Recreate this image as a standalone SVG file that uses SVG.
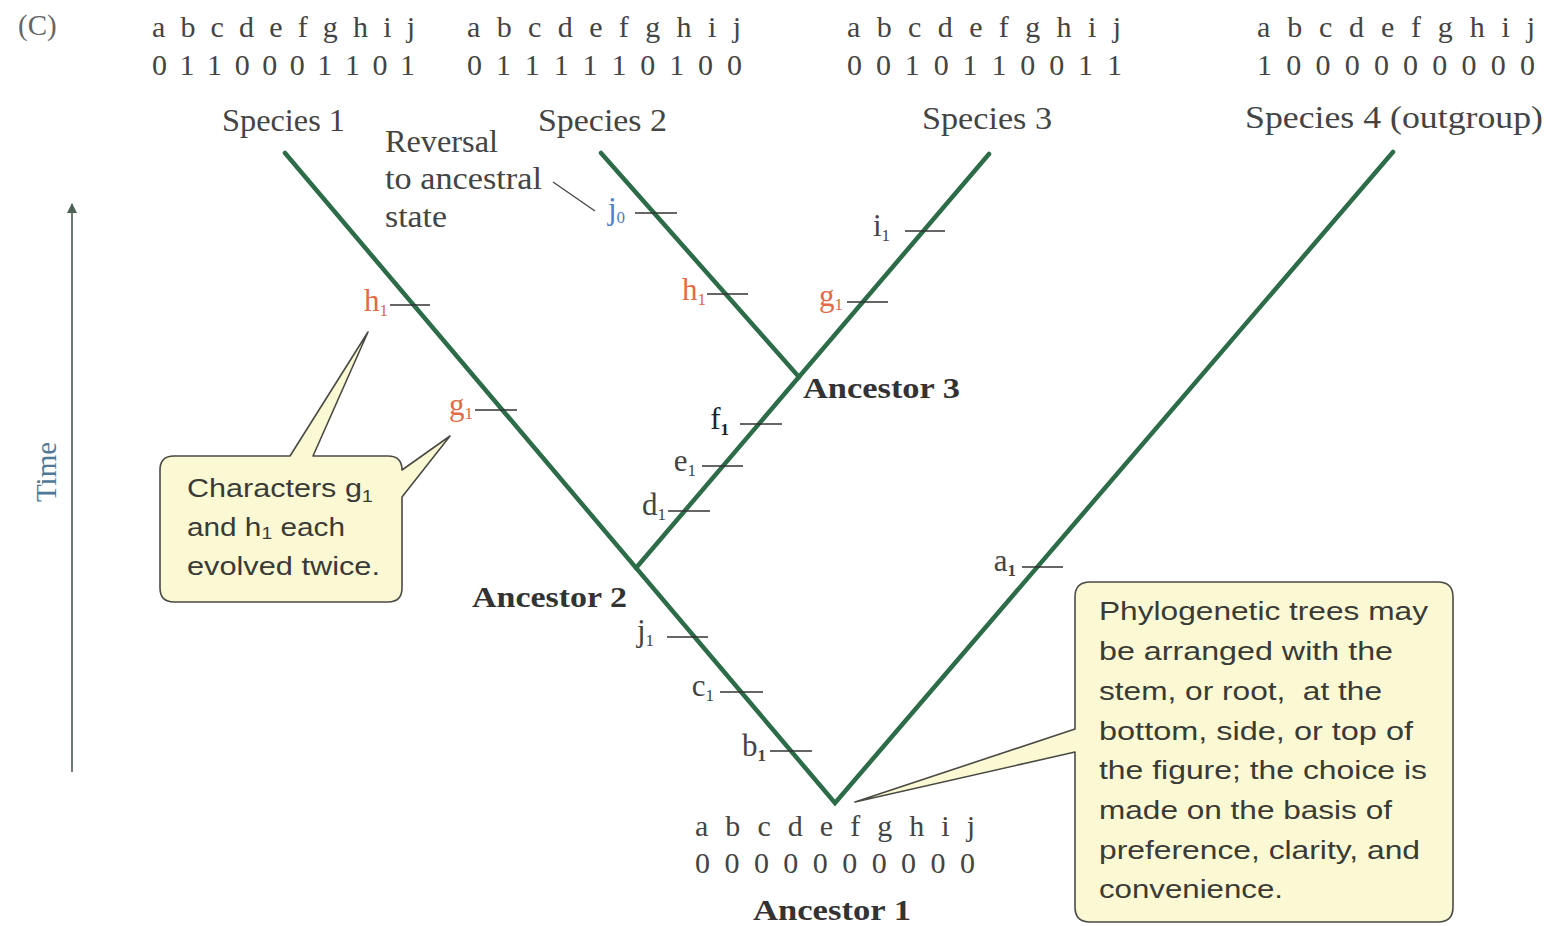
<svg xmlns="http://www.w3.org/2000/svg" width="1550" height="926" viewBox="0 0 1550 926">
<defs>
<style>
.serif{font-family:"Liberation Serif","Times New Roman",serif;fill:#444;}
.data{font-size:30px;}
.sp{font-size:31px;}
.anc{font-size:30px;font-weight:bold;fill:#333;}
.lab{font-size:31px;}
.sub{font-size:17px;}
.red{fill:#e26a48;}
.blue{fill:#4f7fc6;}
.sans{font-family:"Liberation Sans",Arial,sans-serif;font-size:26px;fill:#3a3a36;}
.branch{fill:none;stroke:#2c6c48;stroke-width:4.5;stroke-linecap:round;stroke-linejoin:miter;}
.tick{stroke:#333;stroke-width:1.6;}
.callout{fill:#fbf9d4;stroke:#4a4a44;stroke-width:1.6;stroke-linejoin:round;}
</style>
<marker id="arr" viewBox="0 0 10 10" refX="9" refY="5" markerWidth="10" markerHeight="10" markerUnits="userSpaceOnUse" orient="auto">
<path d="M0,0 L10,5 L0,10 Z" fill="#4d6156"/>
</marker>
</defs>
<rect width="1550" height="926" fill="#ffffff"/>

<text x="18" y="35" font-family="Liberation Serif, serif" font-size="29" fill="#666">(C)</text>

<g id="time-axis">
<line x1="72" y1="772" x2="72" y2="204" stroke="#6d7a72" stroke-width="2" marker-end="url(#arr)"/>
<text x="56" y="472" transform="rotate(-90 56 472)" text-anchor="middle" font-family="Liberation Serif, serif" font-size="29" fill="#4f7896">Time</text>
</g>

<g id="connectors">
<polyline class="branch" points="285,153 835,803 1393,152"/>
<line class="branch" x1="636" y1="568" x2="989" y2="154"/>
<line class="branch" x1="601" y1="153" x2="799" y2="377"/>
</g>

<g id="species1">
<text class="serif data" x="152" y="37" textLength="263" lengthAdjust="spacing">a b c d e f g h i j</text>
<text class="serif data" x="152" y="75" textLength="263" lengthAdjust="spacing">0 1 1 0 0 0 1 1 0 1</text>
<text class="serif sp" x="222" y="131" textLength="123" lengthAdjust="spacingAndGlyphs">Species 1</text>
</g>
<g id="species2">
<text class="serif data" x="467" y="37" textLength="274" lengthAdjust="spacing">a b c d e f g h i j</text>
<text class="serif data" x="467" y="75" textLength="275" lengthAdjust="spacing">0 1 1 1 1 1 0 1 0 0</text>
<text class="serif sp" x="538" y="131" textLength="129" lengthAdjust="spacingAndGlyphs">Species 2</text>
</g>
<g id="species3">
<text class="serif data" x="847" y="37" textLength="274" lengthAdjust="spacing">a b c d e f g h i j</text>
<text class="serif data" x="847" y="75" textLength="275" lengthAdjust="spacing">0 0 1 0 1 1 0 0 1 1</text>
<text class="serif sp" x="922" y="129" textLength="130" lengthAdjust="spacingAndGlyphs">Species 3</text>
</g>
<g id="species4">
<text class="serif data" x="1257" y="37" textLength="278" lengthAdjust="spacing">a b c d e f g h i j</text>
<text class="serif data" x="1257" y="75" textLength="278" lengthAdjust="spacing">1 0 0 0 0 0 0 0 0 0</text>
<text class="serif sp" x="1245" y="128" textLength="298" lengthAdjust="spacingAndGlyphs">Species 4 (outgroup)</text>
</g>

<g id="ancestor1">
<text class="serif data" x="695" y="836" textLength="280" lengthAdjust="spacing">a b c d e f g h i j</text>
<text class="serif data" x="695" y="873" textLength="280" lengthAdjust="spacing">0 0 0 0 0 0 0 0 0 0</text>
<text class="serif anc" x="753" y="920" textLength="158" lengthAdjust="spacingAndGlyphs">Ancestor 1</text>
</g>
<g id="ancestor2">
<text class="serif anc" x="472" y="607" textLength="155" lengthAdjust="spacingAndGlyphs">Ancestor 2</text>
</g>
<g id="ancestor3">
<text class="serif anc" x="803" y="398" textLength="157" lengthAdjust="spacingAndGlyphs">Ancestor 3</text>
</g>

<g id="reversal-note">
<text class="serif lab" x="385" y="152" textLength="113" lengthAdjust="spacingAndGlyphs">Reversal</text>
<text class="serif lab" x="385" y="189" textLength="157" lengthAdjust="spacingAndGlyphs">to ancestral</text>
<text class="serif lab" x="385" y="227" textLength="62" lengthAdjust="spacingAndGlyphs">state</text>
<line x1="553" y1="182" x2="595" y2="211" stroke="#444" stroke-width="1.3"/>
</g>

<g id="changes">
<line class="tick" x1="635" y1="213" x2="677" y2="213"/>
<text class="serif lab blue" x="625" y="219" text-anchor="end">j<tspan class="sub" dy="4">0</tspan></text>
<line class="tick" x1="707" y1="294" x2="748" y2="294"/>
<text class="serif lab red" x="706" y="300" text-anchor="end">h<tspan class="sub" dy="5">1</tspan></text>
<line class="tick" x1="847" y1="302" x2="888" y2="302"/>
<text class="serif lab red" x="843" y="306" text-anchor="end">g<tspan class="sub" dy="4">1</tspan></text>
<line class="tick" x1="905" y1="231" x2="945" y2="231"/>
<text class="serif lab" x="890" y="236" text-anchor="end">i<tspan class="sub" dy="5">1</tspan></text>
<line class="tick" x1="390" y1="305" x2="430" y2="305"/>
<text class="serif lab red" x="388" y="311" text-anchor="end">h<tspan class="sub" dy="5">1</tspan></text>
<line class="tick" x1="475" y1="410" x2="517" y2="410"/>
<text class="serif lab red" x="473" y="415" text-anchor="end">g<tspan class="sub" dy="4">1</tspan></text>
<line class="tick" x1="740" y1="424" x2="782" y2="424"/>
<text class="serif lab" x="729" y="429" text-anchor="end" style="fill:#222">f<tspan class="sub" dy="6" font-weight="bold">1</tspan></text>
<line class="tick" x1="702" y1="466" x2="743" y2="466"/>
<text class="serif lab" x="696" y="471" text-anchor="end">e<tspan class="sub" dy="5">1</tspan></text>
<line class="tick" x1="668" y1="511" x2="710" y2="511"/>
<text class="serif lab" x="666" y="515" text-anchor="end">d<tspan class="sub" dy="5">1</tspan></text>
<line class="tick" x1="667" y1="637" x2="708" y2="637"/>
<text class="serif lab" x="654" y="641" text-anchor="end">j<tspan class="sub" dy="5">1</tspan></text>
<line class="tick" x1="720" y1="692" x2="763" y2="692"/>
<text class="serif lab" x="714" y="696" text-anchor="end">c<tspan class="sub" dy="5">1</tspan></text>
<line class="tick" x1="770" y1="751" x2="812" y2="751"/>
<text class="serif lab" x="766" y="756" text-anchor="end">b<tspan class="sub" dy="5" font-weight="bold">1</tspan></text>
<line class="tick" x1="1022" y1="567" x2="1063" y2="567"/>
<text class="serif lab" x="1016" y="571" text-anchor="end">a<tspan class="sub" dy="5" font-weight="bold">1</tspan></text>
</g>

<g id="callout-homoplasy">
<path class="callout" d="M174 456 L290 456 L368 332 L313 456 L388 456 Q402 456 402 470 L450 436 L402 497 L402 588 Q402 602 388 602 L174 602 Q160 602 160 588 L160 470 Q160 456 174 456 Z"/>
<text class="sans" x="187" y="497" textLength="186" lengthAdjust="spacingAndGlyphs">Characters g<tspan font-size="17" dy="5">1</tspan></text>
<text class="sans" x="187" y="536" textLength="158" lengthAdjust="spacingAndGlyphs">and h<tspan font-size="17" dy="3">1</tspan><tspan dy="-3"> each</tspan></text>
<text class="sans" x="187" y="575" textLength="193" lengthAdjust="spacingAndGlyphs">evolved twice.</text>
</g>

<g id="callout-arrangement">
<path class="callout" d="M1090 582 L1438 582 Q1453 582 1453 597 L1453 907 Q1453 922 1438 922 L1090 922 Q1075 922 1075 907 L1075 752 L855 802 L1075 729 L1075 597 Q1075 582 1090 582 Z"/>
<text class="sans" x="1099" y="620" textLength="329" lengthAdjust="spacingAndGlyphs">Phylogenetic trees may</text>
<text class="sans" x="1099" y="660" textLength="294" lengthAdjust="spacingAndGlyphs">be arranged with the</text>
<text class="sans" x="1099" y="700" textLength="283" lengthAdjust="spacingAndGlyphs" xml:space="preserve">stem, or root,  at the</text>
<text class="sans" x="1099" y="740" textLength="314" lengthAdjust="spacingAndGlyphs">bottom, side, or top of</text>
<text class="sans" x="1099" y="779" textLength="328" lengthAdjust="spacingAndGlyphs">the figure; the choice is</text>
<text class="sans" x="1099" y="819" textLength="293" lengthAdjust="spacingAndGlyphs">made on the basis of</text>
<text class="sans" x="1099" y="859" textLength="321" lengthAdjust="spacingAndGlyphs">preference, clarity, and</text>
<text class="sans" x="1099" y="898" textLength="184" lengthAdjust="spacingAndGlyphs">convenience.</text>
</g>
</svg>
